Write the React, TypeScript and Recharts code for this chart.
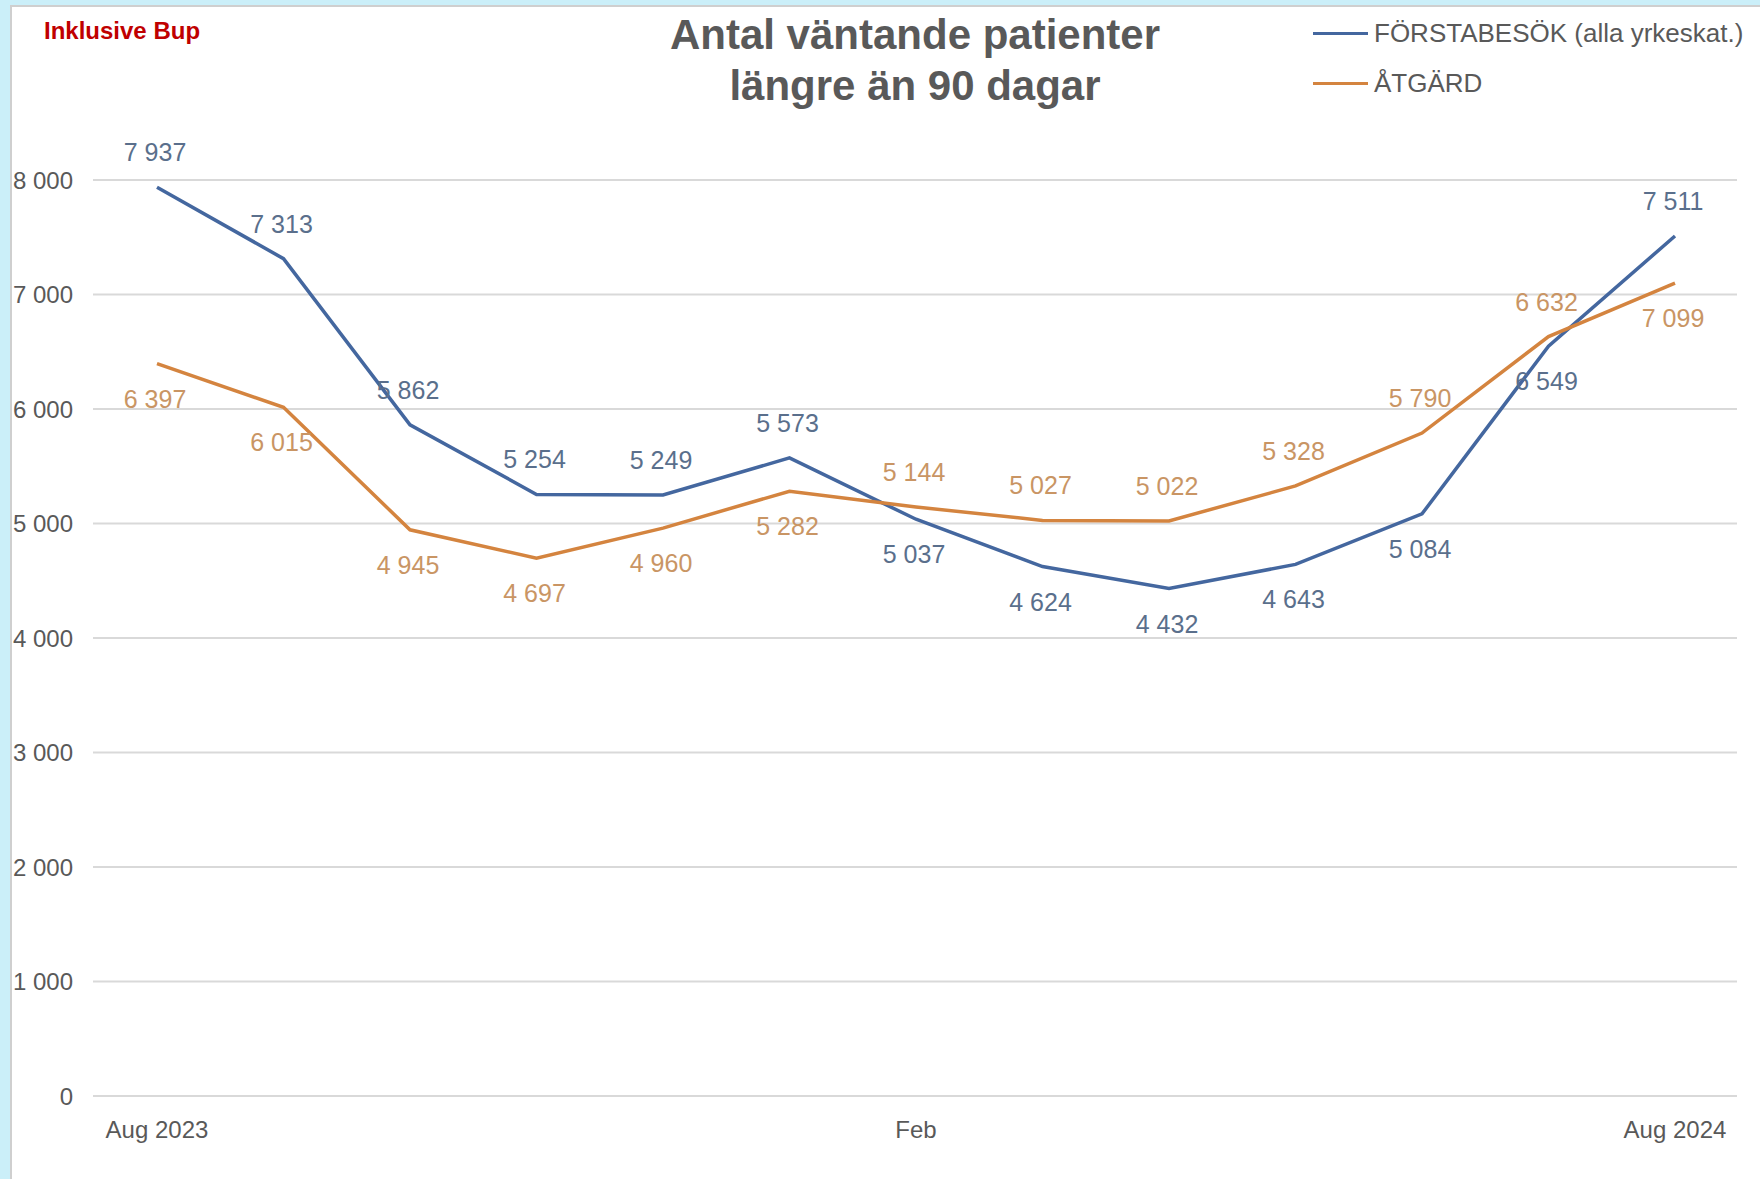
import { LineChart, Line, XAxis, YAxis, CartesianGrid, LabelList } from "recharts";

const months = ["Aug 2023", "Sep", "Okt", "Nov", "Dec", "Jan", "Feb", "Mar", "Apr", "Maj", "Jun", "Jul", "Aug 2024"];
const forstabesok = [7937, 7313, 5862, 5254, 5249, 5573, 5037, 4624, 4432, 4643, 5084, 6549, 7511];
const atgard = [6397, 6015, 4945, 4697, 4960, 5282, 5144, 5027, 5022, 5328, 5790, 6632, 7099];
const yTicks = [0, 1000, 2000, 3000, 4000, 5000, 6000, 7000, 8000];

const seriesNames = ["FÖRSTABESÖK (alla yrkeskat.)", "ÅTGÄRD"];

const data = months.map((m, i) => ({ month: m, forstabesok: forstabesok[i], atgard: atgard[i] }));

const FONT = "'Liberation Sans', Arial, sans-serif";
const BLUE = "#44679f";
const ORANGE = "#d4843f";
const GREY = "#595959";

const fmt = (v: number) => String(v).replace(/\B(?=(\d{3})+(?!\d))/g, " ");

// label goes above the point when this series is the higher one at that month
const makeLabel = (own: number[], other: number[], color: string) => (props: any) => {
  const { x, y, index } = props;
  const above = own[index] >= other[index];
  return (
    <text x={x - 2} y={above ? y - 35 : y + 35} textAnchor="middle" dominantBaseline="central"
      fontFamily={FONT} fontSize={25} fill={color}>
      {fmt(own[index])}
    </text>
  );
};

const XTick = ({ x, y, payload }: any) => (
  <text x={x} y={y + 33} textAnchor="middle" dominantBaseline="central" fontFamily={FONT} fontSize={24} fill={GREY}>
    {payload.value}
  </text>
);

const YTick = ({ x, y, payload }: any) => (
  <text x={x - 20} y={y} textAnchor="end" dominantBaseline="central" fontFamily={FONT} fontSize={24} fill={GREY}>
    {fmt(payload.value)}
  </text>
);

export default function App() {
  return (
    <div style={{ position: "relative", width: 1760, height: 1179, background: "#cbeff9", overflow: "hidden" }}>
      <style>{`body{margin:0}`}</style>
      <div style={{ position: "absolute", left: 10, top: 5, right: 0, bottom: 0, background: "#fff", borderLeft: "2px solid #cfcfcf", borderTop: "2px solid #cfcfcf" }} />
      <div style={{ position: "absolute", left: 44, top: 17, fontFamily: FONT, fontWeight: "bold", fontSize: 24, lineHeight: "28px", color: "#c00000" }}>
        Inklusive Bup
      </div>
      <div style={{ position: "absolute", left: 615, width: 600, top: 9, textAlign: "center", fontFamily: FONT, fontWeight: "bold", fontSize: 42, lineHeight: "51px", color: GREY }}>
        Antal väntande patienter<br />längre än 90 dagar
      </div>
      <div style={{ position: "absolute", left: 1313, top: 8, fontFamily: FONT, fontSize: 26, color: GREY }}>
        {[BLUE, ORANGE].map((c, i) => (
          <div key={i} style={{ display: "flex", alignItems: "center", height: 50 }}>
            <span style={{ display: "inline-block", width: 55, height: 3, background: c, marginRight: 6 }} />
            {seriesNames[i]}
          </div>
        ))}
      </div>
      <div style={{ position: "absolute", left: 0, top: 0 }}>
        <LineChart width={1760} height={1179} data={data} margin={{ top: 180, right: 23, bottom: 43, left: 13 }}>
          <CartesianGrid vertical={false} stroke="#d9d9d9" strokeWidth={2} />
          <XAxis dataKey="month" scale="point" padding={{ left: 64, right: 62 }} interval={5} height={40}
            tick={<XTick />} tickSize={0} tickMargin={0} axisLine={{ stroke: "#d9d9d9", strokeWidth: 2 }} tickLine={false} />
          <YAxis domain={[0, 8000]} ticks={yTicks} width={80} tick={<YTick />} tickSize={0} tickMargin={0}
            axisLine={false} tickLine={false} />
          <Line dataKey="forstabesok" name={seriesNames[0]} stroke={BLUE} strokeWidth={3.5} dot={false} isAnimationActive={false}>
            <LabelList dataKey="forstabesok" content={makeLabel(forstabesok, atgard, "#5a6f8c")} />
          </Line>
          <Line dataKey="atgard" name={seriesNames[1]} stroke={ORANGE} strokeWidth={3.5} dot={false} isAnimationActive={false}>
            <LabelList dataKey="atgard" content={makeLabel(atgard, forstabesok, "#c99564")} />
          </Line>
        </LineChart>
      </div>
    </div>
  );
}
